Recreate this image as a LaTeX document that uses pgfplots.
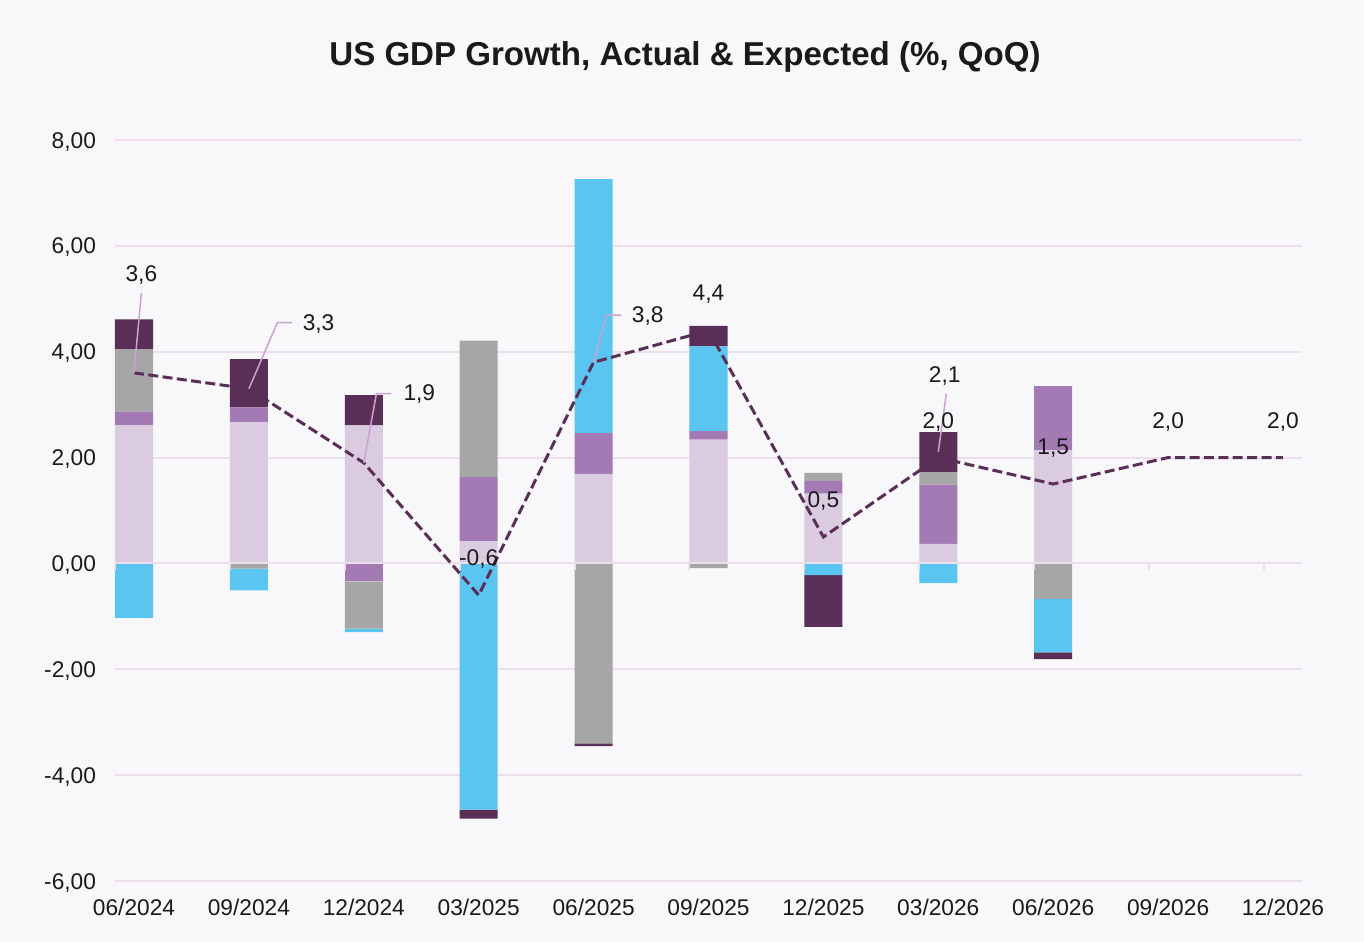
\documentclass[border=0pt]{standalone}
\usepackage{pgfplots}
\pgfplotsset{compat=1.18}
\usepackage{fontspec}
\setmainfont{Liberation Sans}
\definecolor{bgcol}{HTML}{F8F8FA}
\definecolor{gridc}{HTML}{EEDDEC}
\definecolor{lilac}{HTML}{DBCBE0}
\definecolor{purp}{HTML}{A37AB4}
\definecolor{grayc}{HTML}{A6A6A6}
\definecolor{bluec}{HTML}{5BC5F2}
\definecolor{darkp}{HTML}{5A2F57}
\definecolor{leader}{HTML}{C9A3CF}
\definecolor{txt}{HTML}{1A1A1A}
\tikzset{
  lbl/.style={font=\fontsize{11.4}{13}\selectfont, text=txt, inner sep=0pt},
  ldr/.style={draw=leader, line width=0.75bp},
}
\pgfplotsset{
  common/.style={
    at={(57.5bp,30.5bp)}, anchor=south west,
    scale only axis, width=593.5bp, height=370.5bp,
    xmin=-0.1655, xmax=10.1655, ymin=-6, ymax=8,
    clip=false,
  },
  barstack/.style={ybar stacked, bar width=0.331},
}
\begin{document}
\begin{tikzpicture}
\path[use as bounding box, fill=bgcol] (0,0) rectangle (682bp,471bp);
\node[font=\fontsize{16.6}{19}\selectfont\bfseries, text=txt] at (342.5bp,442.5bp) {US GDP Growth, Actual \& Expected (\%, QoQ)};
% positive parts
\begin{axis}[common, barstack,
  axis line style={draw=none},
  ytick={-6,-4,...,8},
  yticklabels={{-6,00},{-4,00},{-2,00},{0,00},{2,00},{4,00},{6,00},{8,00}},
  xtick={0,...,10},
  xticklabels={06/2024,09/2024,12/2024,03/2025,06/2025,09/2025,12/2025,03/2026,06/2026,09/2026,12/2026},
  major tick length=0,
  ymajorgrids, grid style={line width=1bp, color=gridc},
  tick label style={font=\fontsize{11.4}{13}\selectfont, text=txt},
  yticklabel style={xshift=-6bp, yshift=-0.8bp},
  xticklabel style={yshift=-5.5bp},
]
\addplot[fill=lilac, draw=none] coordinates {(0,2.61)(1,2.67)(2,2.61)(3,0.42)(4,1.69)(5,2.34)(6,1.32)(7,0.37)(8,2.14)};
\addplot[fill=purp, draw=none] coordinates {(0,0.26)(1,0.28)(2,0)(3,1.21)(4,0.77)(5,0.16)(6,0.24)(7,1.12)(8,1.21)};
\addplot[fill=grayc, draw=none] coordinates {(0,1.18)(1,0)(2,0)(3,2.58)(4,0)(5,0)(6,0.15)(7,0.23)(8,0)};
\addplot[fill=bluec, draw=none] coordinates {(0,0)(1,0)(2,0)(3,0)(4,4.80)(5,1.60)(6,0)(7,0)(8,0)};
\addplot[fill=darkp, draw=none] coordinates {(0,0.56)(1,0.91)(2,0.57)(3,0)(4,0)(5,0.39)(6,0)(7,0.76)(8,0)};
\end{axis}
% negative parts
\begin{axis}[common, barstack, hide axis]
\addplot[fill=purp, draw=none] coordinates {(0,0)(1,0)(2,-0.34)(3,0)(4,0)(5,0)(6,0)(7,0)(8,0)};
\addplot[fill=grayc, draw=none] coordinates {(0,0)(1,-0.10)(2,-0.89)(3,0)(4,-3.40)(5,-0.09)(6,0)(7,0)(8,-0.67)};
\addplot[fill=bluec, draw=none] coordinates {(0,-1.03)(1,-0.41)(2,-0.07)(3,-4.65)(4,0)(5,0)(6,-0.22)(7,-0.37)(8,-1.01)};
\addplot[fill=darkp, draw=none] coordinates {(0,0)(1,0)(2,0)(3,-0.17)(4,-0.05)(5,0)(6,-0.98)(7,0)(8,-0.13)};
\end{axis}
% line, axis at zero and labels
\begin{axis}[common, hide axis]
\draw[gridc, line width=1bp] (axis cs:-0.1655,0) -- (axis cs:10.1655,0);
\pgfplotsinvokeforeach{-0.1655,0.8345,1.8345,2.8345,3.8345,4.8345,5.8345,6.8345,7.8345,8.8345,9.8345}{
  \draw[gridc, line width=1bp] (axis cs:#1,0) -- ([yshift=-3.5bp]axis cs:#1,0);
}
\addplot[color=darkp, line width=1.5bp, dash pattern=on 5bp off 2.2bp, mark=none]
  coordinates {(0,3.6)(1,3.3)(2,1.9)(3,-0.6)(4,3.8)(5,4.4)(6,0.5)(7,2.0)(8,1.5)(9,2.0)(10,2.0)};
\draw[ldr] (axis cs:0.064,5.11) -- (axis cs:0,3.6);
\draw[ldr] (axis cs:1.374,4.55) -- (axis cs:1.248,4.55) -- (axis cs:1,3.3);
\draw[ldr] (axis cs:2.235,3.21) -- (axis cs:2.11,3.21) -- (axis cs:2,1.9);
\draw[ldr] (axis cs:4.24,4.69) -- (axis cs:4.11,4.69) -- (axis cs:4,3.8);
\draw[ldr] (axis cs:7.07,3.21) -- (axis cs:7.0,2.11);
\node[lbl] at (axis cs:0.064,5.45) {3,6};
\node[lbl] at (axis cs:1.606,4.52) {3,3};
\node[lbl] at (axis cs:2.483,3.20) {1,9};
\node[lbl] at (axis cs:3,0.08) {-0,6};
\node[lbl] at (axis cs:4.471,4.674) {3,8};
\node[lbl] at (axis cs:5,5.08) {4,4};
\node[lbl] at (axis cs:6,1.18) {0,5};
\node[lbl] at (axis cs:7,2.68) {2,0};
\node[lbl] at (axis cs:7.056,3.546) {2,1};
\node[lbl] at (axis cs:8,2.18) {1,5};
\node[lbl] at (axis cs:9,2.68) {2,0};
\node[lbl] at (axis cs:10,2.68) {2,0};
\end{axis}
\end{tikzpicture}
\end{document}
